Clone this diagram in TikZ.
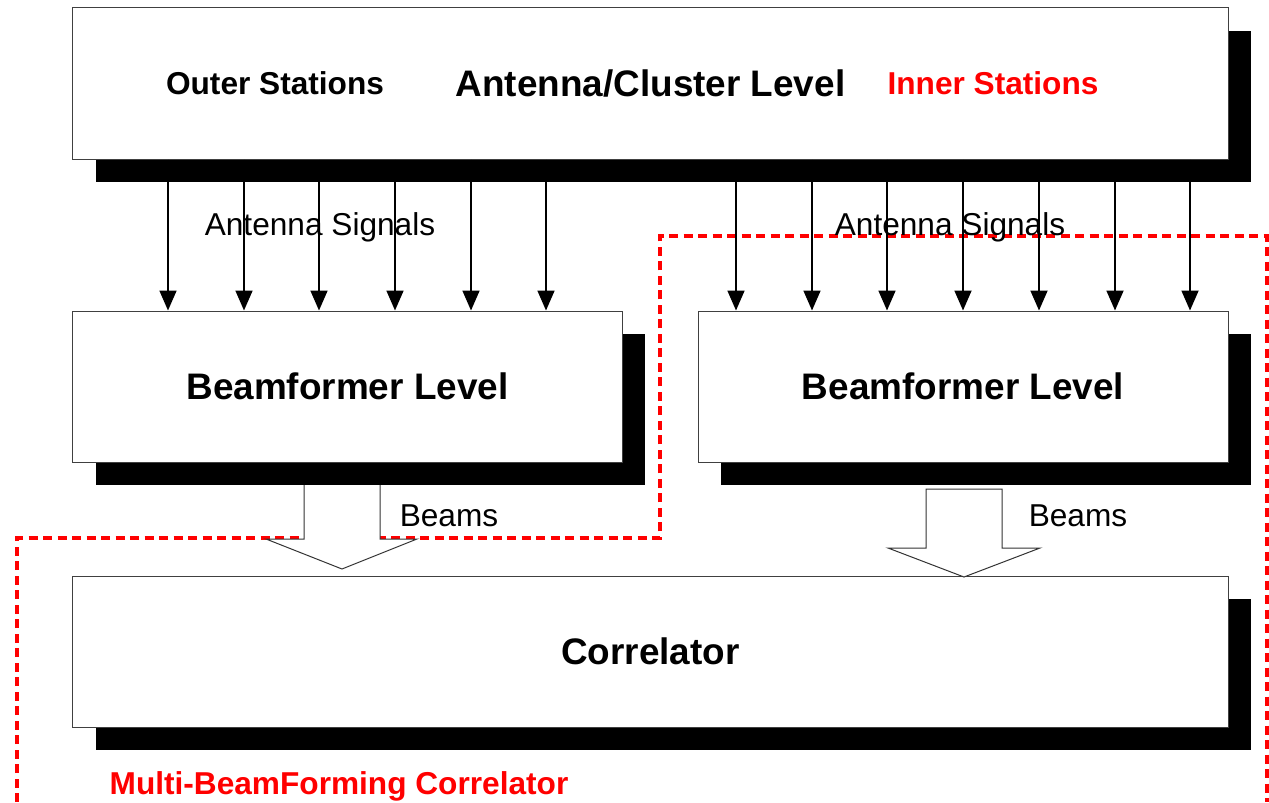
\documentclass[tikz,border=0pt]{standalone}
\usepackage{fontspec}
\setmainfont{Liberation Sans}
\usetikzlibrary{arrows.meta,shadows}

\tikzset{
  level/.style={draw=black!75,line width=0.2mm,fill=white,minimum height=30.2mm,inner sep=0pt,
    font=\fontsize{21}{25}\selectfont\bfseries,
    drop shadow={shadow xshift=4.6mm,shadow yshift=-4.6mm,fill=black,opacity=1}},
  signal/.style={-{Triangle[length=4mm,width=3.4mm]},line width=0.35mm},
  beam/.style={draw=black!80,line width=0.2mm,fill=white},
  label/.style={font=\fontsize{18}{22}\selectfont\bfseries},
  plain/.style={font=\fontsize{18}{22}\selectfont}
}

\begin{document}
\begin{tikzpicture}[x=0.2mm,y=-0.2mm]
\useasboundingbox (0,0) rectangle (1269,802);

\draw[red,line width=0.75mm,dash pattern=on 1.8mm off 1.1mm] (17,802)--(17,538)--(660,538)--(660,236)--(1267,236)--(1267,802);

\node[level,minimum width=231mm] (antenna) at (650.5,83.5) {Antenna/Cluster Level};
\node[level,minimum width=109.8mm] (beamL) at (347.5,386.5) {Beamformer Level};
\node[level,minimum width=106mm] (beamR) at (963,386.5) {Beamformer Level};
\node[level,minimum width=231mm] (corr) at (650.5,651.5) {Correlator};

\node[label] (outer) at (275,83) {Outer Stations};
\node[label,red] (inner) at (993,83) {Inner Stations};
\node[plain] (sigL) at (320,227) {Antenna Signals};
\node[plain] (sigR) at (950,227) {Antenna Signals};
\node[plain] (beamsL) at (449,516) {Beams};
\node[plain] (beamsR) at (1078,516) {Beams};
\node[label,red] (mbf) at (339,786) {Multi-BeamForming Correlator};

\foreach \x in {168,244,319,395,471,546}
  \draw[signal] (antenna.south -| \x,0) -- (beamL.north -| \x,0);
\foreach \x in {736,812,887,963,1039,1115,1190}
  \draw[signal] (antenna.south -| \x,0) -- (beamR.north -| \x,0);

\draw[beam] (304,485)--(304,539)--(266,539)--(342,569)--(417,539)--(380,539)--(380,485);
\draw[beam] (926,489)--(926,548)--(888,548)--(964,577)--(1040,548)--(1002,548)--(1002,489)--cycle;
\end{tikzpicture}
\end{document}
